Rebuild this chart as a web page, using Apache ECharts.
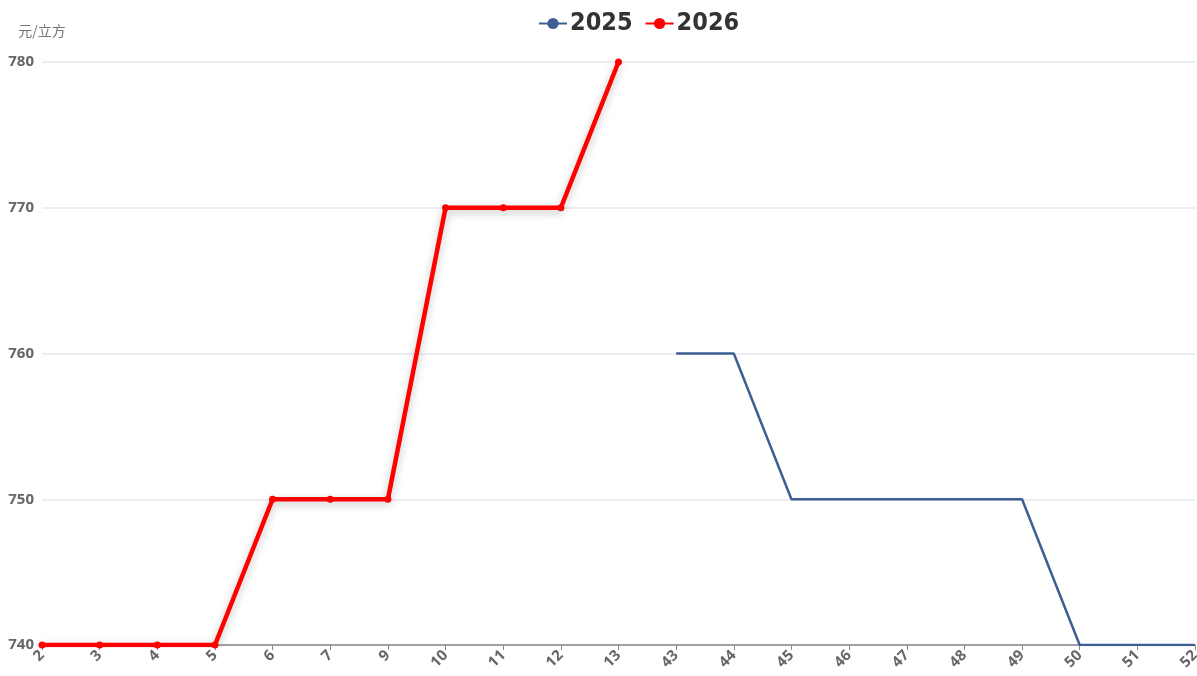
<!DOCTYPE html>
<html>
<head>
<meta charset="utf-8">
<script src="https://cdn.jsdelivr.net/npm/echarts@6/dist/echarts.min.js"></script>
<style>
  html, body { margin: 0; padding: 0; background: #fff; }
  #chart { width: 1197px; height: 676px; }
</style>
</head>
<body>
<div id="chart"></div>
<script>
// Week numbers along the x axis
const weeks = ['2', '3', '4', '5', '6', '7', '9', '10', '11', '12', '13', '43', '44', '45', '46', '47', '48', '49', '50', '51', '52'];
// Price per cubic metre, 2025 (weeks 43–52)
const price2025 = [null, null, null, null, null, null, null, null, null, null, null, 760, 760, 750, 750, 750, 750, 750, 740, 740, 740];
// Price per cubic metre, 2026 (weeks 2–13)
const price2026 = [740, 740, 740, 740, 750, 750, 750, 770, 770, 770, 780, null, null, null, null, null, null, null, null, null, null];
// Value axis range
const yMin = 740, yMax = 780, yStep = 10;

const chart = echarts.init(document.getElementById('chart'));
chart.setOption({
  backgroundColor: '#ffffff',
  animation: false,
  legend: {
    top: 6,
    left: 533,
    itemWidth: 28,
    itemHeight: 14,
    itemGap: 12,
    textStyle: { fontSize: 25, fontWeight: 'bold', color: '#333', padding: [0, 0, 0, -2], fontFamily: 'Liberation Sans Narrow, DejaVu Sans Condensed, sans-serif' },
    data: ['2025', '2026']
  },
  grid: { left: 42, right: 2, top: 62, bottom: 31, containLabel: false, outerBoundsMode: 'none' },
  xAxis: {
    type: 'category',
    data: weeks,
    boundaryGap: false,
    axisLine: { lineStyle: { color: '#888', width: 1.5 } },
    axisTick: { show: true, alignWithLabel: true, lineStyle: { color: '#888' } },
    axisLabel: { rotate: 45, color: '#666', fontSize: 15, fontWeight: 'bold', margin: 8, interval: 0, fontFamily: 'Open Sans, sans-serif' }
  },
  yAxis: {
    type: 'value',
    min: yMin,
    max: yMax,
    interval: yStep,
    name: '元/立方',
    nameGap: 24,
    nameTextStyle: { color: '#777', fontSize: 14, fontFamily: 'Noto Sans CJK SC, sans-serif' },
    axisLine: { show: false },
    axisTick: { show: false },
    axisLabel: { color: '#666', fontSize: 15, fontWeight: 'bold', margin: 8, fontFamily: 'Open Sans, sans-serif' },
    splitLine: { lineStyle: { color: '#e6e8ee', width: 1.5 } }
  },
  series: [
    {
      name: '2025',
      type: 'line',
      data: price2025,
      connectNulls: false,
      showSymbol: false,
      symbol: 'circle',
      symbolSize: 9,
      itemStyle: { color: '#3d5f94' },
      lineStyle: { color: '#3d5f94', width: 2.5 }
    },
    {
      name: '2026',
      type: 'line',
      data: price2026,
      symbol: 'circle',
      symbolSize: 7,
      itemStyle: { color: '#ff0000' },
      lineStyle: { color: '#ff0000', width: 4.5, shadowColor: 'rgba(0,0,0,0.25)', shadowBlur: 8, shadowOffsetY: 3 }
    }
  ]
});
</script>
</body>
</html>
